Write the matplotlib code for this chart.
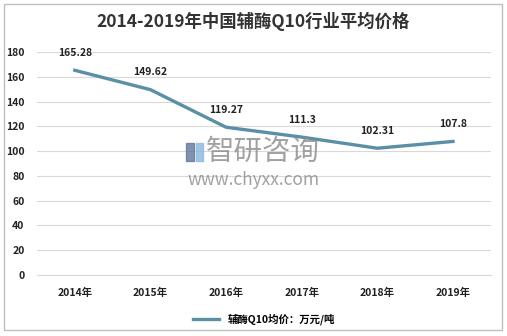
import matplotlib.pyplot as plt
from matplotlib.patches import Rectangle

plt.rcParams['font.family'] = ['Noto Sans CJK SC', 'DejaVu Sans']

# -----------------------------
# Data
# -----------------------------
years = ["2014年", "2015年", "2016年", "2017年", "2018年", "2019年"]
prices = [165.28, 149.62, 119.27, 111.3, 102.31, 107.8]
price_labels = ["165.28", "149.62", "119.27", "111.3", "102.31", "107.8"]

line_color = "#5B8FA6"

fig = plt.figure(figsize=(5.07, 3.36), dpi=100)
ax = fig.add_axes([0.073, 0.182, 0.895, 0.663])

x = list(range(len(years)))
ax.plot(x, prices, color=line_color, linewidth=2.4, label="辅酶Q10均价：万元/吨")

for xi, yi, lab in zip(x, prices, price_labels):
    ax.annotate(lab, (xi, yi), xytext=(0, 9), textcoords="offset points",
                ha="center", va="bottom", fontsize=7.5, fontweight="bold", color="#222222")

ax.set_xlim(-0.5, len(years) - 0.5)
ax.set_ylim(0, 180)
ax.set_yticks(range(0, 181, 20))
ax.set_xticks(x)
ax.set_xticklabels(years)
ax.tick_params(axis="both", length=0, labelsize=7.5, colors="#222222")
ax.tick_params(axis="y", pad=9)
ax.tick_params(axis="x", pad=9)
for lbl in ax.get_xticklabels() + ax.get_yticklabels():
    lbl.set_fontweight("bold")
ax.grid(axis="y", color="#d9d9d9", linewidth=0.8)
ax.set_axisbelow(True)
for s in ax.spines.values():
    s.set_visible(False)
ax.spines["bottom"].set_visible(True)
ax.spines["bottom"].set_color("#d9d9d9")

# Title
fig.text(0.5, 0.935, "2014-2019年中国辅酶Q10行业平均价格", ha="center", va="center",
         fontsize=12.5, fontweight="bold", color="#333333")

# Watermark (logo + text)
W, H = 507, 336
fig.patches.append(Rectangle((186 / W, 1 - 161 / H), 8 / W, 18 / H, transform=fig.transFigure,
                             color="#5a6f95", alpha=0.75, zorder=5))
fig.patches.append(Rectangle((196 / W, 1 - 161 / H), 7 / W, 18 / H, transform=fig.transFigure,
                             color="#8fbce0", alpha=0.85, zorder=5))
fig.text(0.518, 0.548, "智研咨询", ha="center", va="center", fontsize=20.5, color="#8a8a8a", alpha=0.8)
fig.text(0.50, 0.464, "www.chyxx.com", ha="center", va="center", fontsize=12.5, color="#8a8a8a", alpha=0.8)

# Legend
ax.legend(loc="upper center", bbox_to_anchor=(0.5, -0.13), frameon=False,
          fontsize=7.5, handlelength=2.5, prop={"weight": "bold", "size": 7.5})

# Border
fig.patches.append(Rectangle((0.008, 0.018), 0.982, 0.97, transform=fig.transFigure,
                             fill=False, edgecolor="#bfbfbf", linewidth=1))

fig.savefig("out.png", dpi=100)
